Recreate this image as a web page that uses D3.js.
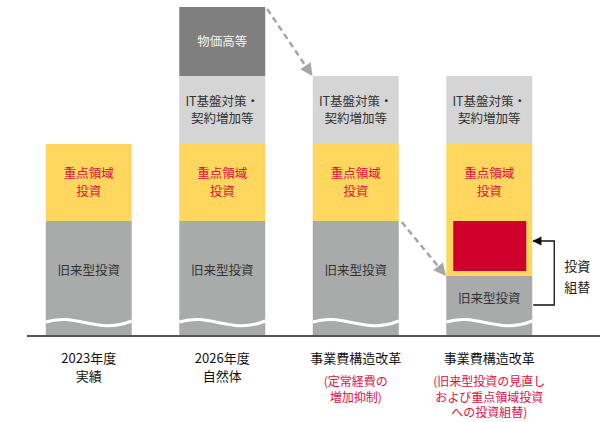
<!DOCTYPE html>
<html>
<head>
<meta charset="utf-8">
<script src="https://cdn.jsdelivr.net/npm/d3@7"></script>
<style>
  body { margin: 0; background: #fff; }
  text { font-family: "Noto Sans CJK JP", "Noto Sans", sans-serif; }
</style>
</head>
<body>
<script>
// データ
var categories = ["2023年度実績", "2026年度自然体", "事業費構造改革1", "事業費構造改革2"];
var catLabels = [["2023年度", "実績"], ["2026年度", "自然体"], ["事業費構造改革"], ["事業費構造改革"]];
var subLabels = [[], [], ["(定常経費の", "増加抑制)"], ["(旧来型投資の見直し", "および重点領域投資", "への投資組替)"]];
var legacy = [115, 115, 115, 60];     // 旧来型投資
var focus = [77, 77, 77, 132];        // 重点領域投資
var itBase = [0, 68, 68, 68];         // IT基盤対策・契約増加等
var price = [0, 69, 0, 0];            // 物価高等
var swap = [0, 0, 0, 50];             // 投資組替分

var w = 612, h = 422;
var svg = d3.select("body").append("svg").attr("width", w).attr("height", h);

var x = d3.scaleBand().domain(categories).range([22, 556]).paddingInner(0.356).paddingOuter(0.178);
var y = d3.scaleLinear().domain([0, 329]).range([336, 7]);
var bw = x.bandwidth();

var segs = [
  { key: "legacy", vals: legacy, color: "#a9aaaa", label: ["旧来型投資"], tc: "#333" },
  { key: "focus", vals: focus, color: "#ffd75f", label: ["重点領域", "投資"], tc: "#e4103c" },
  { key: "it", vals: itBase, color: "#d5d5d5", label: ["IT基盤対策・", "契約増加等"], tc: "#333" },
  { key: "price", vals: price, color: "#7f7f7f", label: ["物価高等"], tc: "#f2f2f2" }
];

// 積み上げ
var data = [];
categories.forEach(function(c, i) {
  var base = 0;
  segs.forEach(function(s) {
    var v = s.vals[i];
    if (v > 0) data.push({ cat: c, i: i, seg: s, y0: base, y1: base + v });
    base += v;
  });
});

svg.selectAll("rect.seg")
  .data(data)
  .enter()
  .append("rect")
  .attr("class", "seg")
  .attr("x", function(d) { return x(d.cat); })
  .attr("y", function(d) { return y(d.y1); })
  .attr("width", bw)
  .attr("height", function(d) { return y(d.y0) - y(d.y1); })
  .attr("fill", function(d) { return d.seg.color; });

// 投資組替 (赤)
svg.selectAll("rect.swap")
  .data(categories.filter(function(c, i) { return swap[i] > 0; }))
  .enter()
  .append("rect")
  .attr("class", "swap")
  .attr("x", function(c) { return x(c) + 7; })
  .attr("y", function(c) { return y(legacy[0]); })
  .attr("width", bw - 13)
  .attr("height", function(c) { var i = categories.indexOf(c); return y(legacy[0] - swap[i]) - y(legacy[0]); })
  .attr("fill", "#d0002c");

// 波線
svg.selectAll("path.wave")
  .data(categories)
  .enter()
  .append("path")
  .attr("class", "wave")
  .attr("d", function(c) {
    var x0 = x(c), x1 = x0 + bw, yy = 322;
    return "M" + x0 + "," + yy + " C" + (x0 + bw * 0.35) + "," + (yy - 10) + " " + (x0 + bw * 0.6) + "," + (yy + 13) + " " + x1 + "," + (yy - 1);
  })
  .attr("fill", "none")
  .attr("stroke", "#fff")
  .attr("stroke-width", 3);

// 基線
svg.append("line")
  .attr("x1", 27).attr("x2", 600)
  .attr("y1", y(0)).attr("y2", y(0))
  .attr("stroke", "#555").attr("stroke-width", 2);

// セグメントのラベル
var labelData = data.map(function(d) {
  var top = d.y1, bot = d.y0;
  if (d.seg.key === "focus") bot = Math.max(d.y0, d.y1 - 77);
  var cy = (y(top) + y(bot)) / 2;
  if (d.seg.key === "legacy") cy -= 8;
  return { d: d, cy: cy };
});
labelData.forEach(function(l) {
  var lines = l.d.seg.label;
  lines.forEach(function(s, k) {
    svg.append("text")
      .attr("x", x(l.d.cat) + bw / 2)
      .attr("y", l.cy + (k - (lines.length - 1) / 2) * 17.3 + 4.5)
      .attr("text-anchor", "middle")
      .attr("font-size", 12.5)
      .attr("fill", l.d.seg.tc)
      .text(s);
  });
});

// カテゴリラベル
categories.forEach(function(c, i) {
  catLabels[i].forEach(function(s, k) {
    svg.append("text").attr("text-anchor", "middle").attr("font-size", 13).attr("fill", "#111")
      .attr("x", x(c) + bw / 2).attr("y", 363 + k * 18).text(s);
  });
  subLabels[i].forEach(function(s, k) {
    svg.append("text").attr("text-anchor", "middle").attr("font-size", 12).attr("fill", "#e4103c")
      .attr("x", x(c) + bw / 2).attr("y", 386 + k * 15.5).text(s);
  });
});

// 矢印
var defs = svg.append("defs");
defs.append("marker").attr("id", "gh").attr("viewBox", "0 0 10 10").attr("refX", 9).attr("refY", 5)
  .attr("markerWidth", 5.5).attr("markerHeight", 5).attr("orient", "auto").attr("markerUnits", "strokeWidth")
  .append("path").attr("d", "M0,0 L10,5 L0,10 Z").attr("fill", "#a6a6a6");
defs.append("marker").attr("id", "bh").attr("viewBox", "0 0 10 10").attr("refX", 9).attr("refY", 5)
  .attr("markerWidth", 9).attr("markerHeight", 7).attr("orient", "auto").attr("markerUnits", "strokeWidth")
  .append("path").attr("d", "M0,0 L10,5 L0,10 Z").attr("fill", "#111");

function topOf(i) { return legacy[i] + focus[i] + itBase[i] + price[i]; }
var dashes = [
  { x1: x(categories[1]) + bw + 2, y1: y(topOf(1)) + 2, x2: x(categories[2]) - 1, y2: y(topOf(2)) - 1 },
  { x1: x(categories[2]) + bw + 3, y1: y(legacy[2]) + 1, x2: x(categories[3]) - 1, y2: y(legacy[3]) - 1 }
];
svg.selectAll("line.dash")
  .data(dashes)
  .enter()
  .append("line")
  .attr("x1", function(d) { return d.x1; })
  .attr("y1", function(d) { return d.y1; })
  .attr("x2", function(d) { return d.x2; })
  .attr("y2", function(d) { return d.y2; })
  .attr("stroke", "#a6a6a6")
  .attr("stroke-width", 2.5)
  .attr("stroke-dasharray", "6,4")
  .attr("marker-end", "url(#gh)");

// 投資組替の括弧矢印
var bx = x(categories[3]) + bw;
var ya = y(legacy[0] - swap[3] / 2) - 5, yb = y(legacy[3]) + 29;
svg.append("path")
  .attr("d", "M" + (bx + 1) + "," + yb + " H" + (bx + 22) + " V" + ya + " H" + (bx + 1))
  .attr("fill", "none").attr("stroke", "#111").attr("stroke-width", 1.3)
  .attr("marker-end", "url(#bh)");
["投資", "組替"].forEach(function(s, k) {
  svg.append("text").attr("text-anchor", "middle").attr("font-size", 13).attr("fill", "#222")
    .attr("x", bx + 45).attr("y", 271 + k * 21).text(s);
});
</script>
</body>
</html>
